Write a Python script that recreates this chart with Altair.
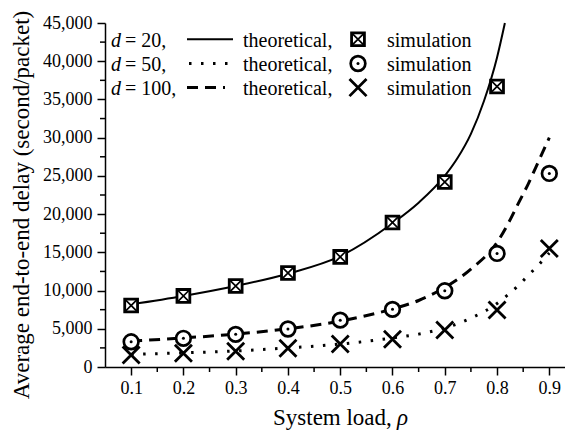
import altair as alt
import pandas as pd

FONT = "'Liberation Serif', 'Times New Roman', Times, 'DejaVu Serif', serif"

# ---------------- data ----------------
rho_sim = [0.1, 0.2, 0.3, 0.4, 0.5, 0.6, 0.7, 0.8, 0.9]
sim_d20 = [8050, 9300, 10600, 12300, 14400, 18900, 24200, 36700]          # squares
sim_d50 = [3300, 3750, 4270, 4970, 6130, 7540, 9970, 14860, 25320]        # circles
sim_d100 = [1570, 1800, 2050, 2440, 3000, 3620, 4840, 7450, 15510]        # crosses

rho_th20 = [0.1, 0.2, 0.3, 0.4, 0.5, 0.6, 0.65, 0.7, 0.725, 0.75, 0.775, 0.8, 0.815]
th_d20 = [8200, 9300, 10600, 12200, 14500, 18800, 21500, 25000, 27400, 30500, 34800, 40500, 45000]

rho_th = [0.1, 0.2, 0.3, 0.4, 0.5, 0.6, 0.65, 0.7, 0.75, 0.8, 0.82, 0.84, 0.86, 0.88, 0.9]
th_dash = [3400, 3800, 4300, 5000, 6000, 7600, 8700, 10400, 12800, 16300, 18600, 21300, 24000, 27000, 30000]
th_dot = [1650, 1850, 2100, 2500, 3000, 3800, 4300, 5100, 6400, 8300, 9400, 10600, 12000, 13400, 14900]

x_ticks = [0.1, 0.2, 0.3, 0.4, 0.5, 0.6, 0.7, 0.8, 0.9]
x_minor = [0.15, 0.25, 0.35, 0.45, 0.55, 0.65, 0.75, 0.85]
y_ticks = [0, 5000, 10000, 15000, 20000, 25000, 30000, 35000, 40000, 45000]
y_minor = [2500, 7500, 12500, 17500, 22500, 27500, 32500, 37500, 42500]

legend_d = ["20,", "50,", "100,"]
x_title = "System load, "
x_title_sym = "ρ"
y_title = "Average end-to-end delay (second/packet)"

W, H = 460, 344

xscale = alt.Scale(domain=[0.05, 0.93], nice=False, zero=False)
yscale = alt.Scale(domain=[0, 45000], nice=False)
xaxis = alt.Axis(values=x_ticks, format=".1f", title=None, tickSize=8,
                 labelPadding=4, labelFlush=False, grid=False)
yaxis = alt.Axis(values=y_ticks, format=",.0f", title=None, tickSize=8,
                 labelPadding=5, grid=False)


def X(f="rho"):
    return alt.X(f"{f}:Q", scale=xscale, axis=xaxis)


def Y(f="v"):
    return alt.Y(f"{f}:Q", scale=yscale, axis=yaxis)


df_sq = pd.DataFrame({"rho": rho_sim[:len(sim_d20)], "v": sim_d20})
df_ci = pd.DataFrame({"rho": rho_sim, "v": sim_d50})
df_x = pd.DataFrame({"rho": rho_sim, "v": sim_d100})
df_t20 = pd.DataFrame({"rho": rho_th20, "v": th_d20})
df_tda = pd.DataFrame({"rho": rho_th, "v": th_dash})
df_tdo = pd.DataFrame({"rho": rho_th, "v": th_dot})
df_xm = pd.DataFrame({"rho": x_minor})
df_ym = pd.DataFrame({"v": y_minor})
one = pd.DataFrame({"a": [0]})

XPATH = "M-1,-1L1,1M1,-1L-1,1"

layers = []
# minor ticks
layers.append(alt.Chart(df_xm).mark_rule(color="black", strokeWidth=1.5).encode(
    x=X(), y=alt.value(H), y2=alt.value(H + 5)))
layers.append(alt.Chart(df_ym).mark_rule(color="black", strokeWidth=1.5).encode(
    y=Y(), x=alt.value(-5), x2=alt.value(0)))

# theoretical lines
layers.append(alt.Chart(df_t20).mark_line(color="black", strokeWidth=2, interpolate="monotone").encode(
    x=X(), y=Y()))
layers.append(alt.Chart(df_tda).mark_line(color="black", strokeWidth=3, strokeDash=[11, 7],
                                         interpolate="monotone").encode(x=X(), y=Y()))
layers.append(alt.Chart(df_tdo).mark_line(color="black", strokeWidth=3, strokeDash=[2.5, 9.5],
                                         interpolate="monotone").encode(x=X(), y=Y()))

# simulation markers
layers.append(alt.Chart(df_sq).mark_point(shape="square", filled=True, fill="white", stroke="black",
                                         strokeWidth=2.8, size=165, opacity=1).encode(x=X(), y=Y()))
layers.append(alt.Chart(df_sq).mark_point(shape=XPATH, filled=False, color="black",
                                         strokeWidth=1.7, size=165, opacity=1).encode(x=X(), y=Y()))
layers.append(alt.Chart(df_ci).mark_point(shape="circle", filled=True, fill="white", stroke="black",
                                         strokeWidth=2.7, size=215, opacity=1).encode(x=X(), y=Y()))
layers.append(alt.Chart(df_ci).mark_point(shape="circle", filled=True, color="black",
                                         size=9, opacity=1).encode(x=X(), y=Y()))
layers.append(alt.Chart(df_x).mark_point(shape=XPATH, filled=False, color="black",
                                        strokeWidth=2.8, size=290, opacity=1).encode(x=X(), y=Y()))

# ---------------- legend ----------------
row_base = [23.5, 47.8, 72.0]
row_mid = [16.3, 40.5, 64.6]
for i in range(3):
    layers.append(alt.Chart(one).mark_text(text="d", font=FONT, fontSize=20, fontStyle="italic",
                                           align="left", baseline="alphabetic", color="black").encode(
        x=alt.value(6), y=alt.value(row_base[i])))
    layers.append(alt.Chart(one).mark_text(text="= " + legend_d[i], font=FONT, fontSize=20,
                                           align="left", baseline="alphabetic", color="black").encode(
        x=alt.value(20), y=alt.value(row_base[i])))
    layers.append(alt.Chart(one).mark_text(text="theoretical,", font=FONT, fontSize=20,
                                           align="left", baseline="alphabetic", color="black").encode(
        x=alt.value(138), y=alt.value(row_base[i])))
    layers.append(alt.Chart(one).mark_text(text="simulation", font=FONT, fontSize=20,
                                           align="left", baseline="alphabetic", color="black").encode(
        x=alt.value(282), y=alt.value(row_base[i])))

layers.append(alt.Chart(one).mark_rule(color="black", strokeWidth=2).encode(
    x=alt.value(82), x2=alt.value(128), y=alt.value(row_mid[0])))
layers.append(alt.Chart(one).mark_rule(color="black", strokeWidth=3, strokeDash=[2.5, 9.5]).encode(
    x=alt.value(84), x2=alt.value(124), y=alt.value(row_mid[1])))
layers.append(alt.Chart(one).mark_rule(color="black", strokeWidth=3, strokeDash=[11, 7]).encode(
    x=alt.value(82), x2=alt.value(120), y=alt.value(row_mid[2])))

layers.append(alt.Chart(one).mark_point(shape="square", filled=True, fill="white", stroke="black",
                                        strokeWidth=2.8, size=165, opacity=1).encode(
    x=alt.value(253), y=alt.value(row_mid[0])))
layers.append(alt.Chart(one).mark_point(shape=XPATH, filled=False, color="black",
                                        strokeWidth=1.7, size=165, opacity=1).encode(
    x=alt.value(253), y=alt.value(row_mid[0])))
layers.append(alt.Chart(one).mark_point(shape="circle", filled=True, fill="white", stroke="black",
                                        strokeWidth=2.7, size=215, opacity=1).encode(
    x=alt.value(253), y=alt.value(row_mid[1])))
layers.append(alt.Chart(one).mark_point(shape="circle", filled=True, color="black",
                                        size=9, opacity=1).encode(
    x=alt.value(253), y=alt.value(row_mid[1])))
layers.append(alt.Chart(one).mark_point(shape=XPATH, filled=False, color="black",
                                        strokeWidth=2.8, size=290, opacity=1).encode(
    x=alt.value(253), y=alt.value(row_mid[2])))

# ---------------- axis titles ----------------
layers.append(alt.Chart(one).mark_text(text=x_title, font=FONT, fontSize=23, align="left",
                                       baseline="alphabetic", color="black").encode(
    x=alt.value(168), y=alt.value(402)))
layers.append(alt.Chart(one).mark_text(text=x_title_sym, font=FONT, fontSize=23, fontStyle="italic",
                                       align="left", baseline="alphabetic", color="black").encode(
    x=alt.value(292), y=alt.value(402)))
layers.append(alt.Chart(one).mark_text(text=y_title, font=FONT, fontSize=23, angle=270, align="center",
                                       baseline="alphabetic", color="black").encode(
    x=alt.value(-76), y=alt.value(182)))

chart = alt.layer(*layers).properties(
    width=W, height=H,
    autosize=alt.AutoSizeParams(type="none"),
    padding={"left": 97, "top": 15, "right": 0, "bottom": 70},
).configure_axis(
    labelFont=FONT, labelFontSize=18, labelColor="black",
    domainColor="black", tickColor="black", domainWidth=1.5, tickWidth=1.5,
).configure_view(stroke=None)

chart.save("out.html", embed_options={"renderer": "svg", "actions": False})
